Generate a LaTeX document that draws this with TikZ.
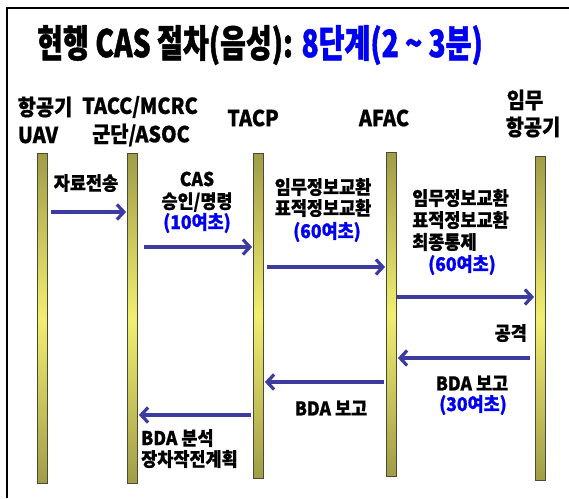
\documentclass[tikz,border=0pt]{standalone}
\usepackage{fontspec}
\usetikzlibrary{arrows.meta}
\newfontfamily\krA{Noto Sans CJK KR}[FakeStretch=0.74, FakeBold=1.2]
\newfontfamily\krB{Noto Sans CJK KR}[FakeStretch=0.90, FakeBold=0.8]
\newfontfamily\krC{Noto Sans CJK KR}[FakeStretch=0.92, FakeBold=0.8]
\definecolor{arrowblue}{HTML}{3C3CA0}
\definecolor{txtblue}{HTML}{0000F0}
\definecolor{olive}{HTML}{A09C48}
\definecolor{lightyel}{HTML}{F2EE70}
\definecolor{baredge}{HTML}{4A4A38}
\tikzset{
  titletxt/.style={font=\krA\bfseries\fontsize{38}{40}\selectfont, inner sep=0pt},
  headtxt/.style={font=\krB\bfseries\fontsize{22}{24}\selectfont, inner sep=0pt},
  lbl/.style={font=\krC\bfseries\fontsize{19}{21}\selectfont, inner sep=0pt},
  bluelbl/.style={lbl, text=txtblue},
  lifebar/.style={draw=baredge, line width=0.8pt, top color=olive, bottom color=olive, middle color=lightyel, minimum width=10pt, inner sep=0pt},
  msg/.style={draw=arrowblue, line width=3.6pt, -{Straight Barb[length=7pt,width=15pt,line width=3.2pt]}},
}
\begin{document}
\begin{tikzpicture}[x=1pt,y=-1pt]
\useasboundingbox (0,0) rectangle (569,498);
% frame
\draw[line width=2pt] (7,498) -- (7,8) -- (569,8);
% title
\node[titletxt, anchor=west] (title) at (37,45) {현행 CAS 절차(음성): \textcolor{txtblue}{8단계(2\,\textasciitilde\,3분)}};
% headers
\node[headtxt] (h1a) at (45,107) {항공기};
\node[headtxt] (h1b) at (38,135) {UAV};
\node[headtxt] (h2a) at (140,107) {TACC/MCRC};
\node[headtxt] (h2b) at (141,135) {군단/ASOC};
\node[headtxt] (h3) at (253,118) {TACP};
\node[headtxt] (h4) at (384,118) {AFAC};
\node[headtxt] (h5a) at (525,100) {임무};
\node[headtxt] (h5b) at (533,127) {항공기};
% lifelines
\node[lifebar, minimum height=330pt, anchor=north] (b1) at (42.5,153) {};
\node[lifebar, minimum height=330pt, anchor=north] (b2) at (132.5,153) {};
\node[lifebar, minimum height=325pt, anchor=north] (b3) at (258.5,153) {};
\node[lifebar, minimum height=324pt, anchor=north] (b4) at (391.5,152) {};
\node[lifebar, minimum height=324pt, anchor=north] (b5) at (540.5,156) {};
% messages
\draw[msg] (b1.east |- 0,212) ++(3,0) -- ([xshift=-1pt]b2.west |- 0,212);
\draw[msg] (b2.east |- 0,247) ++(6,0) -- ([xshift=-1pt]b3.west |- 0,247);
\draw[msg] (b3.east |- 0,267) ++(3,0) -- ([xshift=-1pt]b4.west |- 0,267);
\draw[msg] (b4.east |- 0,297) ++(0,0) -- ([xshift=-1pt]b5.west |- 0,297);
\draw[msg] (b5.west |- 0,358) ++(-5,0) -- ([xshift=1pt]b4.east |- 0,358);
\draw[msg] (b4.west |- 0,382) ++(-2,0) -- ([xshift=1pt]b3.east |- 0,382);
\draw[msg] (b3.west |- 0,415) ++(-2,0) -- ([xshift=1pt]b2.east |- 0,415);
% labels
\node[lbl] (l1) at (86,183) {자료전송};
\node[lbl] (l2a) at (197,179) {CAS};
\node[lbl] (l2b) at (197,202) {승인/명령};
\node[bluelbl] (l2c) at (197,223) {(10여초)};
\node[lbl] (l3a) at (323,187) {임무정보교환};
\node[lbl] (l3b) at (323,208) {표적정보교환};
\node[bluelbl] (l3c) at (327,232) {(60여초)};
\node[lbl, anchor=west] (l4a) at (412,198) {임무정보교환};
\node[lbl, anchor=west] (l4b) at (412,220) {표적정보교환};
\node[lbl, anchor=west] (l4c) at (412,242) {최종통제};
\node[bluelbl] (l4d) at (462,265) {(60여초)};
\node[lbl, anchor=east] (l5) at (527,333) {공격};
\node[lbl] (l6a) at (472,383) {BDA 보고};
\node[bluelbl] (l6b) at (473,405) {(30여초)};
\node[lbl] (l7) at (331,408) {BDA 보고};
\node[lbl, anchor=west] (l8a) at (141,438) {BDA 분석};
\node[lbl, anchor=west] (l8b) at (141,459) {장차작전계획};
\end{tikzpicture}
\end{document}
